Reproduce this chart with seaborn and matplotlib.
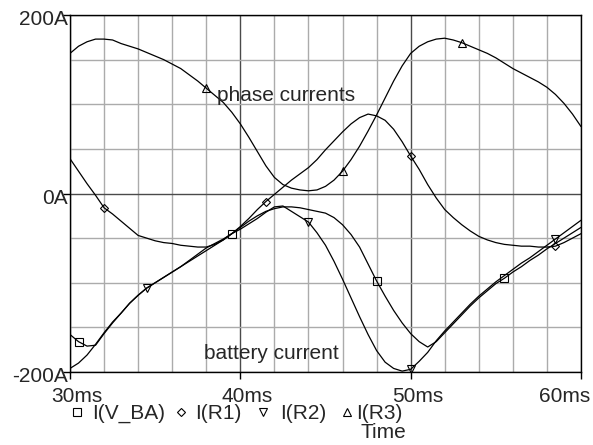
import matplotlib
matplotlib.use("Agg")
import matplotlib.pyplot as plt
import matplotlib.transforms as mtransforms
from matplotlib.lines import Line2D
import numpy as np
import seaborn as sns

# Sample times (ms) of the transient run
time_ms = [30.0, 30.5, 31.0, 31.5, 32.0, 32.5, 33.0, 33.5, 34.0, 34.5,
           35.0, 35.5, 36.0, 36.5, 37.0, 37.5, 38.0, 38.5, 39.0, 39.5,
           40.0, 40.5, 41.0, 41.5, 42.0, 42.5, 43.0, 43.5, 44.0, 44.5,
           45.0, 45.5, 46.0, 46.5, 47.0, 47.5, 48.0, 48.5, 49.0, 49.5,
           50.0, 50.5, 51.0, 51.5, 52.0, 52.5, 53.0, 53.5, 54.0, 54.5,
           55.0, 55.5, 56.0, 56.5, 57.0, 57.5, 58.0, 58.5, 59.0, 59.5,
           60.0]

# Battery current (A)
i_v_ba = [-158, -166, -171, -170, -157, -145, -134, -123, -114, -106,
          -100, -94, -88, -82, -76, -70, -64, -58, -52, -45,
          -38, -31, -25, -20, -17, -15, -15, -16, -18, -20,
          -22, -27, -35, -46, -60, -79, -98, -115, -131, -145,
          -157, -166, -172, -166, -156, -146, -136, -126, -117, -109,
          -101, -95, -88, -82, -75, -69, -62, -56, -50, -44,
          -38]

# Phase currents (A)
i_r1 = [39, 25, 11, -2, -16, -23, -31, -39, -47, -50,
        -53, -55, -56, -58, -59, -60, -60, -57, -52, -45,
        -37, -28, -18, -9, -1, 7, 15, 22, 29, 38,
        49, 59, 69, 78, 85, 89, 87, 82, 72, 58,
        42, 27, 10, -5, -18, -27, -35, -42, -48, -52,
        -55, -57, -58, -59, -59, -60, -60, -59, -55, -50,
        -45]

i_r2 = [-196, -190, -181, -169, -156, -144, -134, -123, -114, -106,
        -100, -94, -88, -82, -75, -68, -61, -56, -51, -45,
        -40, -34, -28, -21, -15, -14, -20, -26, -32, -44,
        -58, -76, -96, -117, -138, -158, -176, -189, -196, -199,
        -197, -188, -178, -165, -154, -144, -134, -124, -115, -107,
        -99, -92, -85, -78, -72, -65, -58, -51, -44, -37,
        -30]

i_r3 = [157, 165, 170, 173, 173, 172, 168, 165, 162, 158,
        154, 150, 145, 140, 133, 126, 118, 110, 102, 91,
        78, 63, 47, 31, 18, 10, 6, 4, 3, 4,
        8, 15, 25, 38, 53, 70, 88, 107, 126, 143,
        157, 165, 170, 173, 174, 172, 169, 165, 161, 157,
        152, 146, 140, 135, 130, 125, 119, 111, 101, 89,
        75]

series_labels = ["I(V_BA)", "I(R1)", "I(R2)", "I(R3)"]
series_values = [i_v_ba, i_r1, i_r2, i_r3]
series_markers = ["s", "D", "v", "^"]
marker_sizes = [6.0, 4.4, 5.8, 5.8]
# Sample indices that carry the trace symbols
marker_index = [[1, 19, 36, 51], [4, 23, 40, 57], [9, 28, 40, 57], [16, 32, 46]]

x_ticks = [30, 40, 50, 60]
x_tick_labels = ["30ms", "40ms", "50ms", "60ms"]
y_ticks = [-200, 0, 200]
y_tick_labels = ["-200A", "0A", "200A"]

sns.set_style("white")
plt.rcParams["font.family"] = ["Liberation Sans", "DejaVu Sans"]
FS = 15

W, H = 593, 445
fig = plt.figure(figsize=(W / 100, H / 100), dpi=100)
L, R, T, B = 70, 581, 15, 372
ax = fig.add_axes([L / W, 1 - B / H, (R - L) / W, (B - T) / H])

for vals, mk, ms, idx in zip(series_values, series_markers, marker_sizes, marker_index):
    sns.lineplot(x=time_ms, y=vals, ax=ax, color="black", lw=0.9,
                 marker=mk, markevery=idx, ms=ms, mfc="none", mec="black",
                 mew=0.8, estimator=None, sort=False, legend=False)

ax.set_xlim(30, 60)
ax.set_ylim(-200, 200)
ax.set_xlabel("")
ax.set_ylabel("")

ax.set_xticks(x_ticks)
ax.set_yticks(y_ticks)
ax.set_xticks(np.arange(30, 61, 2), minor=True)
ax.set_yticks(np.arange(-200, 201, 50), minor=True)
ax.grid(True, which="minor", color="#ababab", lw=1.0)
ax.grid(True, which="major", color="#4a4a4a", lw=1.0)
ax.set_axisbelow(True)
ax.tick_params(which="major", direction="out", length=5, width=1,
               color="black", bottom=True, left=True,
               labelbottom=False, labelleft=False)
ax.tick_params(which="minor", length=0)
for sp in ax.spines.values():
    sp.set_color("black")
    sp.set_linewidth(1.0)
    sp.set_visible(True)

# Axis labels placed the way the simulator probe window prints them
xt = ax.get_xaxis_transform()
for i, (xv, lab) in enumerate(zip(x_ticks, x_tick_labels)):
    if i == len(x_ticks) - 1:
        tr = mtransforms.offset_copy(xt, fig, x=9, y=-30, units="dots")
        ax.text(xv, 0, lab, transform=tr, ha="right", va="baseline", fontsize=FS)
    else:
        tr = mtransforms.offset_copy(xt, fig, x=-19, y=-30, units="dots")
        ax.text(xv, 0, lab, transform=tr, ha="left", va="baseline", fontsize=FS)

yt = ax.get_yaxis_transform()
tr = mtransforms.offset_copy(yt, fig, x=-2, y=-10, units="dots")
for yv, lab in zip(y_ticks, y_tick_labels):
    ax.text(0, yv, lab, transform=tr, ha="right", va="baseline", fontsize=FS)


def fpx(x, y):
    return x / W, 1 - y / H


fig.text(*fpx(217, 101), "phase currents", ha="left", va="baseline", fontsize=FS)
fig.text(*fpx(204, 359), "battery current", ha="left", va="baseline", fontsize=FS)
fig.text(*fpx(383, 438), "Time", ha="center", va="baseline", fontsize=FS)

# Trace legend row under the axis
legend_marker_x = [77, 181, 263, 347]
legend_text_x = [92, 195, 280, 356]
for mk, ms, mx, tx, lab in zip(series_markers, marker_sizes, legend_marker_x,
                               legend_text_x, series_labels):
    fig.add_artist(Line2D([mx / W], [1 - 412 / H], transform=fig.transFigure,
                          marker=mk, ms=ms, mfc="none", mec="black", mew=0.8,
                          ls="none"))
    fig.text(*fpx(tx, 419), lab, ha="left", va="baseline", fontsize=FS)

fig.savefig("out.png", dpi=100, facecolor="white")
